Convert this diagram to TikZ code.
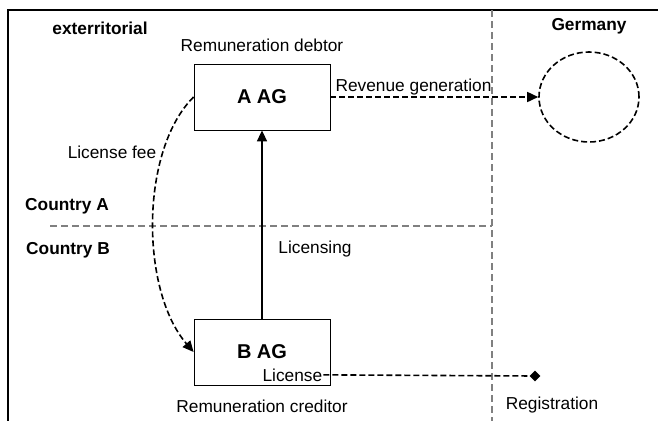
\documentclass[tikz,border=0pt]{standalone}
\usepackage{fontspec}
\setmainfont{Liberation Sans}
\usetikzlibrary{shapes.geometric,arrows.meta,positioning}
\tikzset{
  party/.style={rectangle, draw, line width=0.8pt, minimum width=136pt, minimum height=66pt, font=\fontsize{20}{24}\selectfont\bfseries},
  lbl/.style={inner sep=1pt, font=\fontsize{17.3}{20}\selectfont},
  zone/.style={inner sep=1pt, font=\fontsize{17.3}{20}\selectfont\bfseries},
  flow/.style={-{Triangle[length=11pt,width=10pt]}, line width=1.6pt, dash pattern=on 6pt off 3pt},
  solidflow/.style={-{Triangle[length=11pt,width=10pt]}, line width=1.6pt},
  border/.style={gray, line width=1.3pt, dash pattern=on 7pt off 4pt},
  frame/.style={line width=1.6pt}
}
\begin{document}
\begin{tikzpicture}[x=1pt, y=-1pt, node distance=6pt]
\useasboundingbox (0,0) rectangle (658,421);
% frame and borders
\draw[frame] (658,10) -- (8,10) -- (8,421);
\draw[border] (492,10) -- (492,421);
\draw[border] (50,226) -- (492,226);

% zones
\node[zone] (ext) at (100,28) {exterritorial};
\node[zone] (ger) at (589,26) {Germany};
\node[zone] (cta) at (67,206) {Country A};
\node[zone] (ctb) at (68,250) {Country B};

% parties
\node[party] (aag) at (262,97) {A AG};
\node[party] (bag) at (262,352) {B AG};
\node[lbl, above=11pt of aag] (debtor) {Remuneration debtor};
\node[lbl, below=13pt of bag] (creditor) {Remuneration creditor};
\node[ellipse, draw, line width=1.6pt, dash pattern=on 6pt off 3pt, minimum width=100pt, minimum height=90pt] (market) at (589,97) {};
\node[lbl, above left=3pt and 7pt of bag.south east] (lic) {License};
\node[diamond, fill, inner sep=0pt, minimum size=11pt] (reg) at (535,376) {};
\node[lbl] (regl) at (552,405) {Registration};

% flows
\draw[flow] (aag.east) -- node[lbl, above, pos=0.4] (rev) {Revenue generation} (market);
\draw[solidflow] (bag.north) -- (aag.south);
\node[lbl] (licensing) at (315,249) {Licensing};
\draw[flow] (aag.west) .. controls (140,150) and (140,290) .. (bag.west);
\node[lbl] (fee) at (112,152) {License fee};
\draw[line width=1.6pt, dash pattern=on 6pt off 3pt] (lic.east) -- (reg);
\end{tikzpicture}
\end{document}
